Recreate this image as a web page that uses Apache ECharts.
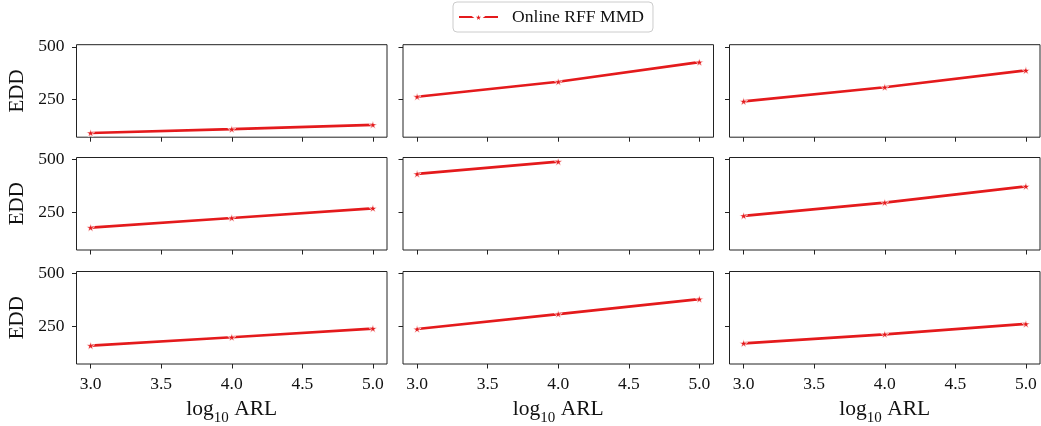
<!DOCTYPE html>
<html>
<head>
<meta charset="utf-8">
<script src="https://cdn.jsdelivr.net/npm/echarts@6/dist/echarts.min.js"></script>
<style>
html,body{margin:0;padding:0;background:#fff;}
#chart{width:1041px;height:426px;}
</style>
</head>
<body>
<div id="chart"></div>
<script>
// ---- data ----
const seriesName = 'Online RFF MMD';
const xValues = [3, 4, 5];
const xTicks = [3.0, 3.5, 4.0, 4.5, 5.0];
const yTicks = [250, 500];
const panel1 = [91, 109, 130];
const panel2 = [263, 334, 427];
const panel3 = [241, 308, 388];
const panel4 = [177, 223, 269];
const panel5 = [432, 490];
const panel6 = [233, 296, 373];
const panel7 = [158, 198, 239];
const panel8 = [237, 308, 379];
const panel9 = [169, 212, 261];
const panels = [panel1, panel2, panel3, panel4, panel5, panel6, panel7, panel8, panel9];

// ---- layout ----
const FONT = 'Liberation Serif';
const colLeft = [76.5, 403, 729.5];
const rowTop = [44.7, 157.5, 271.5];
const W = 310.5, H = 92.5;
const RED = '#e41a1c';
const STAR = 'path://M100 0 L122.34 69.26 L195.11 69.1 L136.14 111.74 L158.78 180.9 L100 138 L41.22 180.9 L63.86 111.74 L4.89 69.1 L77.66 69.26 Z';

// shared y range with 5% margins (matplotlib style)
const allY = panels.flat();
const yLo = Math.min(...allY), yHi = Math.max(...allY);
const yPad = (yHi - yLo) * 0.05;
const xPad = (xValues[xValues.length - 1] - xValues[0]) * 0.05;

const grids = [], xAxes = [], yAxes = [], series = [];
panels.forEach((vals, i) => {
  const r = Math.floor(i / 3), c = i % 3;
  grids.push({left: colLeft[c], top: rowTop[r], width: W, height: H,
    containLabel: false, outerBoundsMode: 'none',
    show: true, borderColor: '#222', borderWidth: 1, backgroundColor: 'transparent'});
  const bottomRow = r === 2, firstCol = c === 0;
  xAxes.push({
    type: 'value', gridIndex: i,
    min: xValues[0] - xPad, max: xValues[xValues.length - 1] + xPad,
    axisLine: {show: false},
    splitLine: {show: false},
    axisTick: {show: true, inside: false, length: 4.5, customValues: xTicks,
      lineStyle: {color: '#222', width: 1}},
    axisLabel: {show: bottomRow, customValues: xTicks, margin: 11,
      formatter: v => v.toFixed(1), color: '#111', fontFamily: FONT, fontSize: 17.5},
    name: bottomRow ? '{a|log}{s|10}{a| ARL}' : '',
    nameLocation: 'middle', nameGap: 34,
    nameTextStyle: {rich: {
      a: {fontFamily: FONT, fontSize: 21.5, color: '#111', verticalAlign: 'bottom'},
      s: {fontFamily: FONT, fontSize: 15, color: '#111', verticalAlign: 'bottom', padding: [0, 0, -6, 0]}
    }}
  });
  yAxes.push({
    type: 'value', gridIndex: i,
    min: yLo - yPad, max: yHi + yPad,
    axisLine: {show: false},
    splitLine: {show: false},
    axisTick: {show: true, inside: false, length: 4.5, customValues: yTicks,
      lineStyle: {color: '#222', width: 1}},
    axisLabel: {show: firstCol, customValues: yTicks, margin: 12,
      color: '#111', fontFamily: FONT, fontSize: 17.5},
    name: firstCol ? 'EDD' : '',
    nameLocation: 'middle', nameGap: 49, nameRotate: 90,
    nameTextStyle: {fontFamily: FONT, fontSize: 21, color: '#111'}
  });
  series.push({
    type: 'line', name: seriesName, xAxisIndex: i, yAxisIndex: i,
    data: vals.map((v, k) => [xValues[k], v]),
    lineStyle: {color: RED, width: 2.7},
    itemStyle: {color: RED, borderColor: '#fff', borderWidth: 0.6},
    symbol: STAR, symbolSize: 8, symbolKeepAspect: true, showSymbol: true,
    animation: false
  });
});

const chart = echarts.init(document.getElementById('chart'), null, {renderer: 'canvas'});
chart.setOption({
  backgroundColor: '#fff',
  animation: false,
  legend: {
    data: [seriesName], left: 453, top: 2,
    itemWidth: 39, itemHeight: 14, itemGap: 10,
    padding: [6, 9, 6, 5],
    borderColor: '#ccc', borderWidth: 1, borderRadius: 4,
    textStyle: {fontFamily: FONT, fontSize: 17.6, color: '#111', padding: [0, 0, 0, 9]}
  },
  grid: grids, xAxis: xAxes, yAxis: yAxes, series: series
});
</script>
</body>
</html>
